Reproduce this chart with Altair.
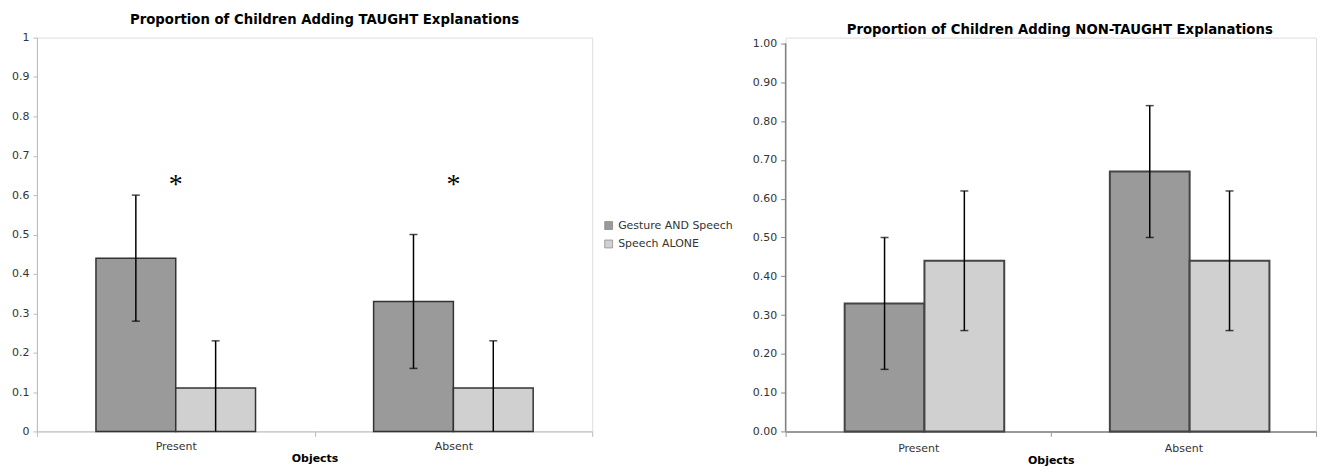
import altair as alt
import pandas as pd

categories = ["Present", "Absent"]
groups = ["Gesture AND Speech", "Speech ALONE"]

# order: Present-Gesture, Present-Speech, Absent-Gesture, Absent-Speech
taught_mean = [0.44, 0.11, 0.33, 0.11]
taught_lo = [0.28, 0.0, 0.16, 0.0]
taught_hi = [0.60, 0.23, 0.50, 0.23]

nontaught_mean = [0.33, 0.44, 0.67, 0.44]
nontaught_lo = [0.16, 0.26, 0.50, 0.26]
nontaught_hi = [0.50, 0.62, 0.84, 0.62]

sig_categories = ["Present", "Absent"]
sig_values = [0.63, 0.63]

left_ticks = [0, 0.1, 0.2, 0.3, 0.4, 0.5, 0.6, 0.7, 0.8, 0.9, 1.0]
right_ticks = [0, 0.1, 0.2, 0.3, 0.4, 0.5, 0.6, 0.7, 0.8, 0.9, 1.0]

colors = ["#9a9a9a", "#d0d0d0"]
FONT = "DejaVu Sans"


def make_df(mean, lo, hi):
    rows = []
    i = 0
    for c in categories:
        for g in groups:
            rows.append({"Objects": c, "Group": g, "mean": mean[i], "lo": lo[i], "hi": hi[i]})
            i += 1
    return pd.DataFrame(rows)


df_left = make_df(taught_mean, taught_lo, taught_hi)
df_right = make_df(nontaught_mean, nontaught_lo, nontaught_hi)
df_sig = pd.DataFrame({"Objects": sig_categories, "v": sig_values})


def make_x(xaxis_color, xaxis_width, lab_pad, title_pad):
    return alt.X("Objects:N", sort=categories,
                 scale=alt.Scale(paddingInner=0, paddingOuter=0),
                 axis=alt.Axis(title="Objects", labelAngle=0, tickBand="extent",
                               domainColor=xaxis_color, domainWidth=xaxis_width,
                               tickColor=xaxis_color, tickSize=5, labelPadding=lab_pad,
                               labelFont=FONT, labelFontSize=11, labelColor="#333333",
                               titleFont=FONT, titleFontSize=11, titleFontWeight="bold",
                               titleColor="#000000", titlePadding=title_pad))


def panel(df, offset_pad, yaxis, yscale, legend, bar_stroke, bar_sw, x):
    xo = alt.XOffset("Group:N", sort=groups,
                     scale=alt.Scale(paddingInner=0, paddingOuter=offset_pad))
    base = alt.Chart(df)
    bars = base.mark_bar(stroke=bar_stroke, strokeWidth=bar_sw).encode(
        x=x,
        xOffset=xo,
        y=alt.Y("mean:Q", scale=yscale, axis=yaxis),
        color=alt.Color("Group:N", sort=groups,
                        scale=alt.Scale(domain=groups, range=colors),
                        legend=legend),
    )
    rules = base.mark_rule(color="#000000", strokeWidth=1.5).encode(
        x=x, xOffset=xo, y=alt.Y("lo:Q", scale=yscale, axis=yaxis), y2="hi:Q")
    caps_hi = base.mark_tick(color="#000000", size=8, thickness=1.5, orient="horizontal").encode(
        x=x, xOffset=xo, y=alt.Y("hi:Q", scale=yscale, axis=yaxis))
    caps_lo = base.mark_tick(color="#000000", size=8, thickness=1.5, orient="horizontal").encode(
        x=x, xOffset=xo, y=alt.Y("lo:Q", scale=yscale, axis=yaxis)).transform_filter("datum.lo > 0")
    return bars, rules, caps_hi, caps_lo


left_yaxis = alt.Axis(title=None, values=left_ticks, format="~g", grid=False,
                      labelOverlap=False, labelFlush=False, tickCount=11,
                      domainColor="#bbbbbb", tickColor="#bbbbbb", tickSize=4,
                      labelPadding=4, labelFont=FONT, labelFontSize=11,
                      labelColor="#333333")
left_yscale = alt.Scale(domain=[0, 1], nice=False)
left_legend = alt.Legend(title=None, orient="none", legendX=568, legendY=183,
                         symbolType="square", symbolSize=64, symbolStrokeColor="#777777",
                         symbolStrokeWidth=0.6, labelFont=FONT, labelFontSize=11,
                         labelColor="#333333", rowPadding=6.5, padding=0, labelOffset=4)

left_x = make_x("#bbbbbb", 1, 4, 1)
lb, lr, lch, lcl = panel(df_left, 0.74, left_yaxis, left_yscale, left_legend,
                         "#333333", 1.5, left_x)

sig = alt.Chart(df_sig).mark_text(text="*", fontSize=28, font="Liberation Serif",
                                  baseline="middle", dy=2, color="#000000").encode(
    x=left_x, y=alt.Y("v:Q", scale=left_yscale, axis=left_yaxis))

left = alt.layer(lb, lr, lch, lcl, sig).properties(
    width=557, height=395,
    title=alt.TitleParams("Proportion of Children Adding TAUGHT Explanations",
                          font=FONT, fontSize=13.3, fontWeight="bold", color="#000000",
                          offset=5.5, dx=10, anchor="middle"))

right_yaxis = alt.Axis(title=None, values=right_ticks, format=".2f", grid=False,
                       labelOverlap=False, labelFlush=False, tickCount=11,
                       domain=False, tickColor="#888888", tickSize=5,
                       labelPadding=4, labelFont=FONT, labelFontSize=11,
                       labelColor="#333333")
right_yscale = alt.Scale(domain=[0, 1.0154], nice=False)
right_x = make_x("#999999", 2, 6, 1)
rb, rr, rch, rcl = panel(df_right, 0.69, right_yaxis, right_yscale, None,
                         "#444444", 2, right_x)

axis_line = alt.Chart(pd.DataFrame({"a": [0.0], "b": [1.0]})).mark_rule(
    color="#808080", strokeWidth=1.5).encode(
    x=alt.value(0), y=alt.Y("a:Q", scale=right_yscale, axis=right_yaxis), y2="b:Q")

right = alt.layer(rb, rr, rch, rcl, axis_line).properties(
    width=532, height=395,
    title=alt.TitleParams("Proportion of Children Adding NON-TAUGHT Explanations",
                          font=FONT, fontSize=13.3, fontWeight="bold", color="#000000",
                          offset=1, dx=9, anchor="middle"))

chart = alt.hconcat(left, right, spacing=17).resolve_scale(
    color="independent").properties(
    padding={"left": 3, "top": 3, "right": 0, "bottom": 0}
).configure_view(stroke=None).configure(background="#ffffff")

chart.save("out.html", embed_options={"renderer": "svg", "actions": False})
